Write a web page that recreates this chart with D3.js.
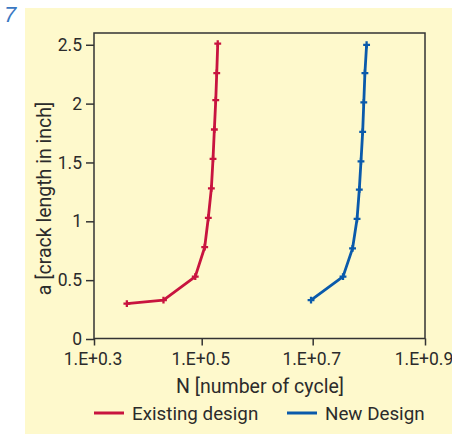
<!DOCTYPE html>
<html><head><meta charset="utf-8">
<script src="https://cdn.jsdelivr.net/npm/d3@7"></script>
<style>
html,body{margin:0;padding:0;background:#fff;}
svg text{font-family:Roboto,"Liberation Sans",Arial,sans-serif;fill:#2b2b2b;}
</style></head>
<body><svg id="c" width="452" height="434"></svg>
<script>
// data (x = exponent of N, y = crack length a)
const xTicks = [0.3, 0.5, 0.7, 0.9];
const xTickLabels = ["1.E+0.3", "1.E+0.5", "1.E+0.7", "1.E+0.9"];
const yTicks = [0, 0.5, 1, 1.5, 2, 2.5];
const yTickLabels = ["0", "0.5", "1", "1.5", "2", "2.5"];
const seriesNames = ["Existing design", "New Design"];
const existingN = [0.361, 0.429, 0.488, 0.5054, 0.5119, 0.5174, 0.5204, 0.5228, 0.5253, 0.5271, 0.5289];
const existingA = [0.30, 0.33, 0.53, 0.78, 1.03, 1.28, 1.53, 1.78, 2.03, 2.26, 2.51];
const newN = [0.697, 0.754, 0.771, 0.779, 0.783, 0.786, 0.789, 0.791, 0.793, 0.796];
const newA = [0.33, 0.53, 0.77, 1.02, 1.27, 1.51, 1.76, 2.01, 2.26, 2.50];

const colors = ["#c8143f", "#0a5aab"];
const svg = d3.select("#c");
const L = 94, R = 425, T = 33, B = 339;

svg.append("rect").attr("x", 25).attr("y", 8).attr("width", 427).attr("height", 426).attr("fill", "#fef9cc");
svg.append("text").attr("x", 4).attr("y", 22).attr("font-size", 22).attr("font-style", "italic")
  .style("font-family", "'Liberation Sans',Arial,sans-serif").style("fill", "#3a78c2").text("7");

const W = R - L;
const x = d3.scaleLinear().domain(xTicks).range([L, L + W * 0.3254, L + W * 0.6607, R]);
const y = d3.scaleLinear().domain([0, 2.6]).range([B, T]);

const xAxis = d3.axisBottom(x).tickValues(xTicks).tickFormat((d, i) => xTickLabels[i]).tickSize(7).tickPadding(7);
const yAxis = d3.axisLeft(y).tickValues(yTicks).tickFormat((d, i) => yTickLabels[i]).tickSize(8).tickPadding(4);

const gx = svg.append("g").attr("transform", `translate(0,${B - 0.5})`).call(xAxis);
const gy = svg.append("g").attr("transform", `translate(${L},0)`).call(yAxis);
[gx, gy].forEach(g => {
  g.select(".domain").remove();
  g.selectAll(".tick line").attr("stroke", "#333").attr("stroke-width", 1.5);
  g.selectAll(".tick text").attr("font-size", 17.5).style("fill", "#2b2b2b");
});
gx.selectAll(".tick text").attr("dx", -1.5);

svg.append("rect").attr("x", L).attr("y", T).attr("width", R - L).attr("height", B - 0.5 - T)
  .attr("fill", "none").attr("stroke", "#333").attr("stroke-width", 1.5);

const series = [
  existingN.map((n, i) => [n, existingA[i]]),
  newN.map((n, i) => [n, newA[i]])
];
const line = d3.line().x(d => x(d[0])).y(d => y(d[1]));
series.forEach((s, k) => {
  svg.append("path").datum(s).attr("d", line).attr("fill", "none")
    .attr("stroke", colors[k]).attr("stroke-width", 2.8).attr("stroke-linejoin", "round");
  svg.selectAll(null).data(s).enter().append("path")
    .attr("d", d3.symbol().type(d3.symbolCross).size(26))
    .attr("transform", d => `translate(${x(d[0])},${y(d[1])})`)
    .attr("fill", colors[k]);
});

svg.append("text").attr("x", 260).attr("y", 393).attr("text-anchor", "middle").attr("font-size", 19.5)
  .text("N [number of cycle]");
svg.append("text").attr("transform", "translate(51,198.5) rotate(-90)").attr("text-anchor", "middle")
  .attr("font-size", 19.5).text("a [crack length in inch]");

const legX = [94, 287];
seriesNames.forEach((nm, k) => {
  svg.append("line").attr("x1", legX[k]).attr("x2", legX[k] + 30).attr("y1", 413).attr("y2", 413)
    .attr("stroke", colors[k]).attr("stroke-width", 3);
  svg.append("text").attr("x", legX[k] + 38).attr("y", 420).attr("font-size", 18.8).text(nm);
});
</script></body></html>
